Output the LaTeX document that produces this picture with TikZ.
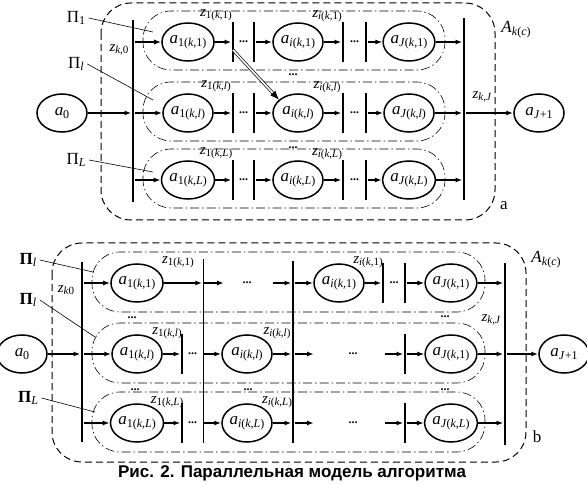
\documentclass[tikz,border=0pt]{standalone}
\usepackage{fontspec}
\setmainfont{Liberation Serif}
\newfontfamily\capfont{Liberation Sans}
\usetikzlibrary{arrows.meta,shapes.geometric,calc}

\newcommand\lab[3][12]{\textit{#2}\raisebox{-0.35ex}{\fontsize{#1}{#1}\selectfont #3}}
\newcommand\dts{{\fontsize{12}{12}\selectfont\textbf{...}}}

\begin{document}
\begin{tikzpicture}[x=1pt, y=-1pt, font=\fontsize{17}{20}\selectfont,
		st/.style={draw, ellipse, line width=1.5pt, minimum width=50pt, minimum height=38pt, inner sep=0pt},
		vbar/.style={fill, inner sep=0pt, minimum width=2.6pt, minimum height=40pt},
		arr/.style={-{Latex[length=7pt,width=5pt]}, line width=1.4pt},
		dbl/.style={double, double distance=1.6pt, line width=0.7pt, -{Latex[length=9pt,width=7pt]}},
		rowbox/.style={line width=0.6pt, dash pattern=on 9pt off 3pt on 1.5pt off 3pt, rounded corners=28pt},
		outbox/.style={line width=1pt, dash pattern=on 7pt off 4pt, rounded corners=30pt},
		zl/.style={font=\fontsize{15}{17}\selectfont, inner sep=1pt},
		pl/.style={line width=0.6pt}]
	\useasboundingbox (0,0) rectangle (587,484);
	% ---- a ----
	\draw[outbox] (101,3) rectangle (495,220);
	\node (Ac) at (516,30) {\lab{A}{\textit{k}(\textit{c})}};
	\node (Ala) at (504,206) {a};
	\node[st] (A0) at (62,113) {\lab{a}{0}};
	\node[st] (AJp) at (539,113) {\lab{a}{\textit{J}+1}};
	\node[vbar, minimum height=182pt] (Ain) at (133,111) {};
	\node[vbar, minimum height=182pt] (Aout) at (464,109) {};
	\node[zl] (Az0) at (119,50) {\lab[11]{z}{\textit{k},0}};
	\node[zl] (AzJ) at (482,97) {\lab[11]{z}{\textit{k},\textit{J}}};
	\draw[arr] (A0) -- (Ain.west |- A0);
	\draw[arr] (Aout.east |- AJp) -- (AJp);
	\foreach \r/\y/\s in {1/42/1, l/113/\textit{l}, L/180/\textit{L}} {
		\draw[rowbox] (143,\y-31) rectangle (445,\y+28);
		\node[st] (A1\r) at (188,\y) {\lab{a}{1(\textit{k},\s)}};
		\node[st] (Ai\r) at (298,\y) {\lab{a}{\textit{i}(\textit{k},\s)}};
		\node[st] (AJ\r) at (409,\y) {\lab{a}{\textit{J}(\textit{k},\s)}};
		\node[vbar] (Ap1\r) at (233,\y) {};
		\node[vbar] (Ap2\r) at (254,\y) {};
		\node[vbar] (Ap3\r) at (343,\y) {};
		\node[vbar] (Ap4\r) at (366,\y) {};
		\node (Ad1\r) at (243.5,\y) {\dts};
		\node (Ad2\r) at (354.5,\y) {\dts};
		\node[zl] (Az1\r) at (216,\y-27) {\lab[11]{z}{1(\textit{k},\s)}};
		\node[zl] (Azi\r) at (327,\y-26) {\lab[11]{z}{\textit{i}(\textit{k},\s)}};
		\draw[arr] (Ain.east |- A1\r) -- (A1\r);
		\draw[arr] (A1\r) -- (Ap1\r);
		\draw[arr] (Ap2\r) -- (Ai\r);
		\draw[arr] (Ai\r) -- (Ap3\r);
		\draw[arr] (Ap4\r) -- (AJ\r);
		\draw[arr] (AJ\r) -- (Aout.west |- AJ\r);
	}
	\node (Adr1) at (293,75) {\dts};
	\node (Adr2) at (293,148) {\dts};
	\draw[dbl] ($(Ap11)+(0,8)$) -- (Ail.145);
	% Pi labels
	\foreach \n/\t/\y/\ey in {1/1/18/32, 2/\textit{l}/64/100, 3/\textit{L}/160/172} {
		\node (Api\n) at (76,\y) {Π\raisebox{-0.35ex}{\fontsize{12}{12}\selectfont\t}};
		\coordinate (Apt\n) at (153,\ey);
		\draw[pl] (Api\n.east) -- (Apt\n);
	}
	% ---- b ----
	\draw[outbox] (52,243) rectangle (526,462);
	\node (Bc) at (546,260) {\lab{A}{\textit{k}(\textit{c})}};
	\node (Blb) at (537,437) {b};
	\node[st] (B0) at (22,354) {\lab{a}{0}};
	\node[st] (BJp) at (564,354) {\lab{a}{\textit{J}+1}};
	\node[vbar, minimum height=180pt] (Bin) at (82,352) {};
	\node[vbar, minimum height=182pt] (Bout) at (505,354) {};
	\node[vbar, minimum width=1pt, minimum height=184pt] (Bm1) at (203,351) {};
	\node[vbar, minimum height=182pt] (Bm2) at (293,352) {};
	\node[zl] (Bz0) at (66,290) {\lab[11]{z}{\textit{k}0}};
	\node[zl] (BzJ) at (491,320) {\lab[11]{z}{\textit{k},\textit{J}}};
	\draw[arr] (B0) -- (Bin.west |- B0);
	\draw[arr] (Bout.east |- BJp) -- (BJp);
	% first row
	\draw[rowbox] (92,252) rectangle (485,312);
	\node[st] (B11) at (137,283) {\lab{a}{1(\textit{k},1)}};
	\node[st] (Bi1) at (339,283) {\lab{a}{\textit{i}(\textit{k},1)}};
	\node[st] (BJ1) at (451,283) {\lab{a}{\textit{J}(\textit{k},1)}};
	\node[vbar] (Bq11) at (383,283) {};
	\node[vbar] (Bq21) at (405,283) {};
	\coordinate (Bc11) at (224,283);
	\coordinate (Bc21) at (273,283);
	\node (Bd11) at (247,283) {\dts};
	\node (Bd21) at (394,283) {\dts};
	\node[zl] (Bz11) at (178,262) {\lab[11]{z}{1(\textit{k},1)}};
	\node[zl] (Bzi1) at (368,262) {\lab[11]{z}{\textit{i}(\textit{k},1)}};
	\draw[arr] (Bin.east |- B11) -- (B11);
	\draw[arr] (B11) -- (Bm1.west |- B11);
	\draw[arr] (Bm1.east |- B11) -- (Bc11);
	\draw[arr] (Bc21) -- (Bm2.west |- Bi1);
	\draw[arr] (Bm2.east |- Bi1) -- (Bi1);
	\draw[arr] (Bi1) -- (Bq11);
	\draw[arr] (Bq21) -- (BJ1);
	\draw[arr] (BJ1) -- (Bout.west |- BJ1);
	% rows l, L
	\foreach \r/\y/\s/\t in {l/354/\textit{l}/1, L/423/\textit{L}/\textit{L}} {
		\draw[rowbox] (92,\y-31) rectangle (485,\y+29);
		\node[st] (B1\r) at (137,\y) {\lab{a}{1(\textit{k},\s)}};
		\node[st] (Bi\r) at (247,\y) {\lab{a}{\textit{i}(\textit{k},\s)}};
		\node[st] (BJ\r) at (451,\y) {\lab{a}{\textit{J}(\textit{k},\t)}};
		\node[vbar] (Bq0\r) at (182,\y) {};
		\node[vbar] (Bq2\r) at (405,\y) {};
		\node (Bd0\r) at (192.5,\y) {\dts};
		\node (Bd3\r) at (353,\y) {\dts};
		\coordinate (Bc3\r) at (314,\y);
		\coordinate (Bc4\r) at (385,\y);
		\node[zl] (Bz1\r) at (167,\y-21) {\lab[11]{z}{1(\textit{k},\s)}};
		\node[zl] (Bzi\r) at (277,\y-21) {\lab[11]{z}{\textit{i}(\textit{k},\s)}};
		\draw[arr] (Bin.east |- B1\r) -- (B1\r);
		\draw[arr] (B1\r) -- (Bq0\r);
		\draw[arr] (Bm1.east |- Bi\r) -- (Bi\r);
		\draw[arr] (Bi\r) -- (Bm2.west |- Bi\r);
		\draw[arr] (Bm2.east |- Bi\r) -- (Bc3\r);
		\draw[arr] (Bc4\r) -- (Bq2\r);
		\draw[arr] (Bq2\r) -- (BJ\r);
		\draw[arr] (BJ\r) -- (Bout.west |- BJ\r);
	}
	\foreach \n/\x/\y in {1/132/318, 2/445/317, 3/135/390, 4/248/390, 5/445/390}
		\node (Bdr\n) at (\x,\y) {\dts};
	% Pi labels
	\foreach \n/\t/\y/\ex/\ey in {1/\textit{l}/260/93/272, 2/\textit{l}/300/95/337, 3/\textit{L}/398/95/412} {
		\node (Bpi\n) at (28,\y) {\textbf{Π}\raisebox{-0.35ex}{\fontsize{12}{12}\selectfont\t}};
		\coordinate (Bpt\n) at (\ex,\ey);
		\draw[pl] (Bpi\n.east) -- (Bpt\n);
	}
	\node[font=\capfont\bfseries\fontsize{17}{19}\selectfont] (cap) at (292,473) {Рис. 2. Параллельная модель алгоритма};
\end{tikzpicture}
\end{document}
